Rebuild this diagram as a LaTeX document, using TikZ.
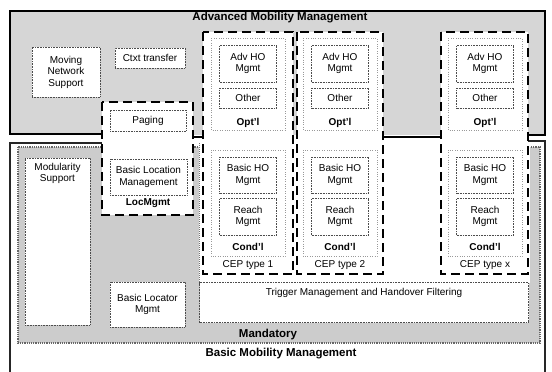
\documentclass[tikz,border=0pt]{standalone}
\usepackage{fontspec}
\setmainfont{Liberation Sans}
\usetikzlibrary{positioning}

\tikzset{
  blk/.style={draw=black!70, densely dotted, line width=.6pt, fill=white, align=center,
    inner sep=0pt, font=\fontsize{10}{11.5}\selectfont},
  grp/.style={draw=black!40, dotted, line width=.4pt},
  cep/.style={line width=2.4pt, dash pattern=on 9pt off 5pt},
  lbl/.style={font=\bfseries\fontsize{10}{12}\selectfont},
  ttl/.style={font=\bfseries\fontsize{11.5}{13}\selectfont},
}

\begin{document}
\begin{tikzpicture}[x=1pt,y=-1pt]
    \useasboundingbox (0,0) rectangle (552,372);
    % fond gris
    \fill[black!16] (10,11) rectangle (545,135);
    \fill[black!20] (18,147) rectangle (540,343);
    \draw[black!60, line width=1.2pt, densely dotted] (18,147) rectangle (540,343);
    % zone blanche du bas
    \fill[white] (199,143) rectangle (530,283);
    \draw[black!55, line width=1pt, densely dotted] (199,143) -- (199,283);
    \fill[white] (102,102) rectangle (193,215);
    % bords
    \draw[line width=2.2pt] (102,134) -- (10,134) -- (10,11) -- (545,11) -- (545,135) -- (528,135);
    \draw[line width=2.2pt] (193,137) -- (203,137);
    \draw[line width=2.2pt] (383,137) -- (441,137);
    \draw[black!85, line width=2pt] (102,143) -- (10,143) -- (10,372);
    \draw[black!85, line width=2pt] (528,141) -- (545,141) -- (545,372);
    % boites du haut
    \node[blk, minimum width=68pt, minimum height=50pt] (mns) at (66,72) {Moving\\Network\\Support};
    \node[blk, minimum width=70pt, minimum height=20pt] (ctx) at (150,58) {Ctxt transfer};
    % LocMgmt
    \node[blk, minimum width=76pt, minimum height=21pt] (pag) at (148,120.5) {Paging};
    \node[blk, minimum width=77pt, minimum height=36pt] (blm) at (148.5,177) {Basic Location\\Management};
    \node[lbl] (loc) at (148,203) {LocMgmt};
    \draw[cep] (102,102) rectangle (193,215);
    % Mandatory
    \node[blk, minimum width=65pt, minimum height=167pt] (mod) at (57.5,241.5) {};
    \node[below=2pt of mod.north, align=center, font=\fontsize{10}{11.5}\selectfont] (modt) {Modularity\\Support};
    \node[blk, minimum width=75pt, minimum height=45pt] (blc) at (147.5,304.5) {Basic Locator\\Mgmt};
    \node[blk, minimum width=329pt, minimum height=40pt] (trg) at (364,302.5) {};
    \node[below=3pt of trg.north] (trgt) {Trigger Management and Handover Filtering};
    % CEP
    \foreach \xa/\xb/\cx/\nm/\ct in {203/293/248/a/1, 297/383/340/b/2, 441/528/485/c/x}{
      \fill[white] (\xa,32) rectangle (\xb,274);
      \draw[grp] (\cx-37,38) rectangle (\cx+37,130);
      \draw[grp] (\cx-37,150) rectangle (\cx+37,256);
      \node[blk, minimum width=57pt, minimum height=37pt] (adv\nm) at (\cx,63.5) {Adv HO\\Mgmt};
      \node[blk, minimum width=57pt, minimum height=20pt] (oth\nm) at (\cx,98) {Other};
      \node[lbl] (opt\nm) at (\cx,123) {Opt'l};
      \node[blk, minimum width=57pt, minimum height=36pt] (bho\nm) at (\cx,175) {Basic HO\\Mgmt};
      \node[blk, minimum width=57pt, minimum height=37pt] (rch\nm) at (\cx,216.5) {Reach\\Mgmt};
      \node[lbl] (cnd\nm) at (\cx,247) {Cond'l};
      \node (typ\nm) at (\cx,265) {CEP type \ct};
      \draw[cep] (\xa,32) rectangle (\xb,274);
    }
    % titres
    \node[ttl] (amm) at (280,18) {Advanced Mobility Management};
    \node[ttl] (man) at (268,335) {Mandatory};
    \node[ttl] (bmm) at (281,354) {Basic Mobility Management};
\end{tikzpicture}
\end{document}
